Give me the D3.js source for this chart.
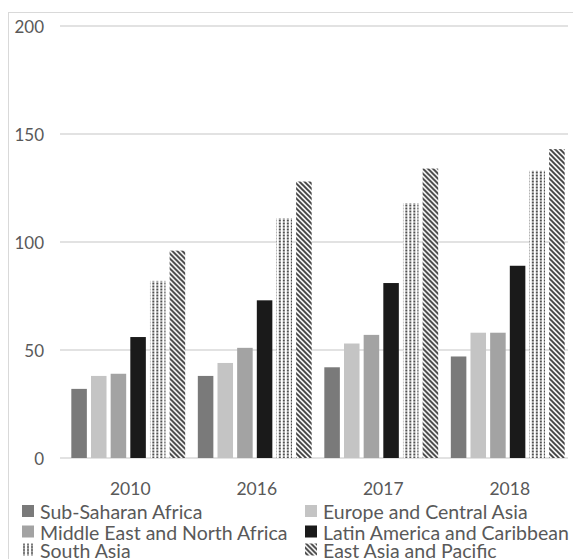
<!DOCTYPE html>
<html>
<head>
<meta charset="utf-8">
<script src="https://cdn.jsdelivr.net/npm/d3@7"></script>
<style>
  html, body { margin: 0; padding: 0; background: #fff; }
  svg { display: block; }
  text { font-family: Lato, "Open Sans", sans-serif; fill: #595959; }
</style>
</head>
<body>
<svg id="chart" width="573" height="559"></svg>
<script>
// Years on the x axis
const years = ["2010", "2016", "2017", "2018"];

// Regions (one bar per region in each year group)
const regions = [
  "Sub-Saharan Africa",
  "Europe and Central Asia",
  "Middle East and North Africa",
  "Latin America and Caribbean",
  "South Asia",
  "East Asia and Pacific"
];

// Values per region, in year order
const subSaharanAfrica  = [32, 38, 42, 47];
const europeCentralAsia = [38, 44, 53, 58];
const middleEastNAfrica = [39, 51, 57, 58];
const latinAmerica      = [56, 73, 81, 89];
const southAsia         = [82, 111, 118, 133];
const eastAsiaPacific   = [96, 128, 134, 143];

const seriesValues = [
  subSaharanAfrica, europeCentralAsia, middleEastNAfrica,
  latinAmerica, southAsia, eastAsiaPacific
];

// Y-axis ticks
const yTicks = [0, 50, 100, 150, 200];

const svg = d3.select("#chart");
const W = 573, H = 559;

// Fill patterns for the last two regions
const defs = svg.append("defs");
const dots = defs.append("pattern")
  .attr("id", "dots").attr("patternUnits", "userSpaceOnUse")
  .attr("width", 4).attr("height", 3);
dots.append("rect").attr("width", 4).attr("height", 3).attr("fill", "#fff");
dots.append("rect").attr("x", 1).attr("y", 0.5).attr("width", 2).attr("height", 2).attr("fill", "#505050");

const stripes = defs.append("pattern")
  .attr("id", "stripes").attr("patternUnits", "userSpaceOnUse")
  .attr("width", 5).attr("height", 5);
stripes.append("rect").attr("width", 5).attr("height", 5).attr("fill", "#fff");
stripes.append("path")
  .attr("d", "M-1,-1 L6,6 M-1,4 L1,6 M4,-1 L6,1")
  .attr("stroke", "#3a3a3a").attr("stroke-width", 1.9);

const fills = ["#7a7a7a", "#c4c4c4", "#a3a3a3", "#1a1a1a", "url(#dots)", "url(#stripes)"];

// Outer chart border
svg.append("rect")
  .attr("x", 8.5).attr("y", 12.5)
  .attr("width", W + 10).attr("height", H + 10)
  .attr("fill", "none").attr("stroke", "#d9d9d9").attr("stroke-width", 1);

// Scales
const y = d3.scaleLinear().domain([0, 200]).range([458, 26]);
const x0 = d3.scaleBand().domain(years).range([65, 571])
  .paddingInner(0.1).paddingOuter(0.05);
const x1 = d3.scaleBand().domain(d3.range(regions.length))
  .range([0, x0.bandwidth()]).paddingInner(0.21).paddingOuter(0);

// Gridlines
svg.append("g").selectAll("line")
  .data(yTicks).join("line")
  .attr("x1", 60).attr("x2", 568)
  .attr("y1", d => y(d)).attr("y2", d => y(d))
  .attr("stroke", "#d9d9d9").attr("stroke-width", 1.5);

// Y tick labels
svg.append("g").selectAll("text")
  .data(yTicks).join("text")
  .attr("x", 44).attr("y", d => y(d) + 7)
  .attr("text-anchor", "end")
  .attr("font-size", 17)
  .text(d => d);

// Bars
const groups = svg.append("g").selectAll("g")
  .data(years).join("g")
  .attr("transform", d => `translate(${x0(d)},0)`);

groups.selectAll("rect")
  .data((yr, i) => seriesValues.map((vals, s) => ({ s, v: vals[i] })))
  .join("rect")
  .attr("x", d => x1(d.s))
  .attr("width", x1.bandwidth())
  .attr("y", d => y(d.v))
  .attr("height", d => y(0) - y(d.v))
  .attr("fill", d => fills[d.s]);

// X labels
svg.append("g").selectAll("text")
  .data(years).join("text")
  .attr("x", d => x0(d) + x0.bandwidth() / 2 + 2)
  .attr("y", 495)
  .attr("text-anchor", "middle")
  .attr("font-size", 17.5)
  .text(d => d);

// Legend (two columns, three rows)
const legendCols = [22, 305];
const legendRows = [519, 539.5, 557.5];
const legend = svg.append("g").selectAll("g")
  .data(regions).join("g")
  .attr("transform", (d, i) => `translate(${legendCols[i % 2]},${legendRows[Math.floor(i / 2)]})`);
legend.append("rect")
  .attr("x", 0).attr("y", -14).attr("width", 12).attr("height", 12)
  .attr("fill", (d, i) => fills[i]);
legend.append("text")
  .attr("x", 18).attr("y", 0)
  .attr("font-size", 19.5)
  .text(d => d);
</script>
</body>
</html>
